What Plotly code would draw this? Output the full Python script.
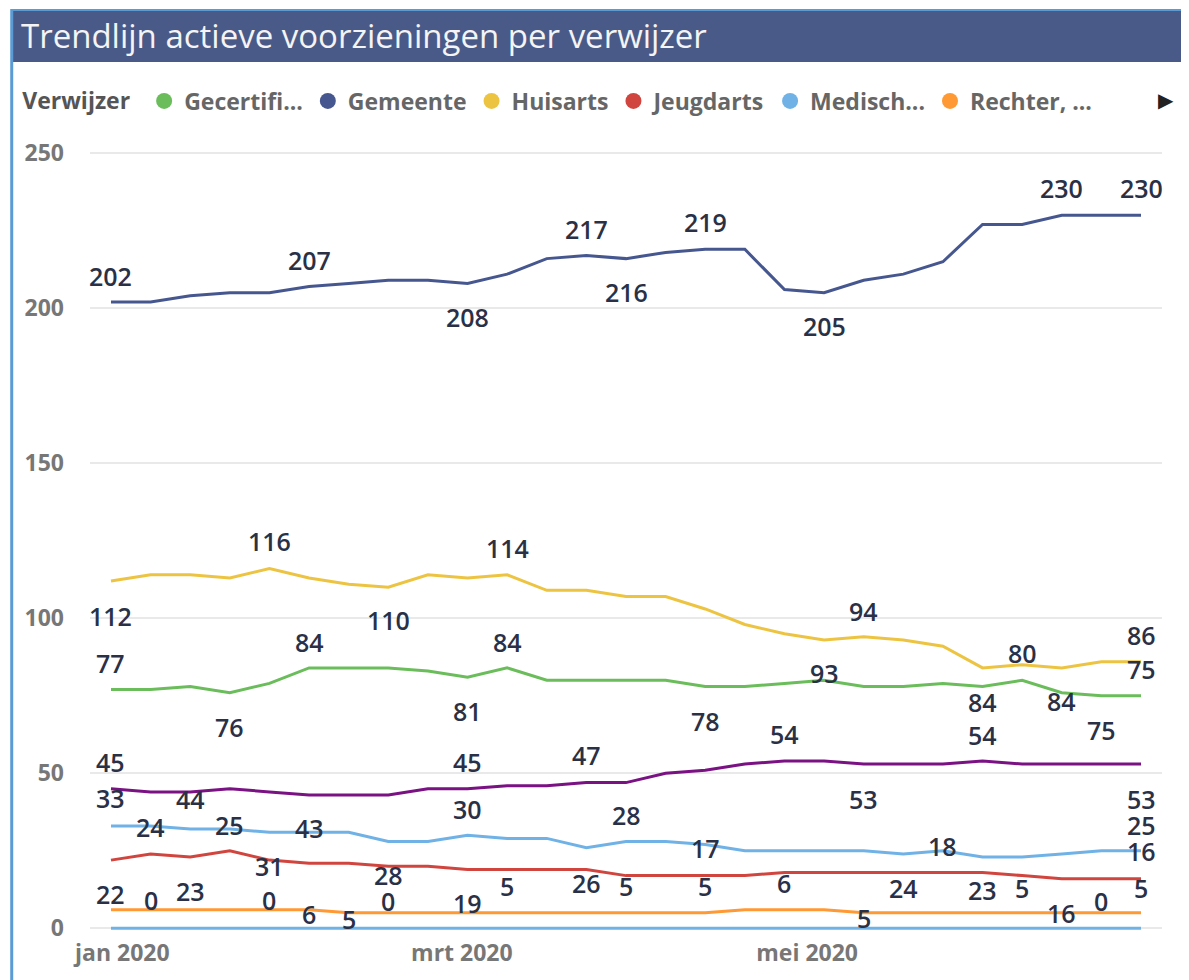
import plotly.graph_objects as go

# ---------------- data ----------------
weeks = ["2019-12-30", "2020-01-06", "2020-01-13", "2020-01-20", "2020-01-27",
         "2020-02-03", "2020-02-10", "2020-02-17", "2020-02-24", "2020-03-02",
         "2020-03-09", "2020-03-16", "2020-03-23", "2020-03-30", "2020-04-06",
         "2020-04-13", "2020-04-20", "2020-04-27", "2020-05-04", "2020-05-11",
         "2020-05-18", "2020-05-25", "2020-06-01", "2020-06-08", "2020-06-15",
         "2020-06-22", "2020-06-29"]

gecertificeerd = [77, 77, 78, 76, 79, 84, 84, 84, 83, 81, 84, 80, 80, 80, 80, 78, 78, 79, 80, 78, 78, 79, 78, 80, 76, 75, 75]
gemeente = [202, 202, 204, 205, 205, 207, 208, 209, 209, 208, 211, 216, 217, 216, 218, 219, 219, 206, 205, 209, 211, 215, 227, 227, 230, 230, 230]
huisarts = [112, 114, 114, 113, 116, 113, 111, 110, 114, 113, 114, 109, 109, 107, 107, 103, 98, 95, 93, 94, 93, 91, 84, 85, 84, 86, 86]
jeugdarts = [22, 24, 23, 25, 22, 21, 21, 20, 20, 19, 19, 19, 19, 17, 17, 17, 17, 18, 18, 18, 18, 18, 18, 17, 16, 16, 16]
medisch = [33, 33, 32, 32, 31, 31, 31, 28, 28, 30, 29, 29, 26, 28, 28, 27, 25, 25, 25, 25, 24, 25, 23, 23, 24, 25, 25]
rechter = [6, 6, 6, 6, 6, 6, 5, 5, 5, 5, 5, 5, 5, 5, 5, 5, 6, 6, 6, 5, 5, 5, 5, 5, 5, 5, 5]
overig = [45, 44, 44, 45, 44, 43, 43, 43, 45, 45, 46, 46, 47, 47, 50, 51, 53, 54, 54, 53, 53, 53, 54, 53, 53, 53, 53]
onbekend = [0, 0, 0, 0, 0, 0, 0, 0, 0, 0, 0, 0, 0, 0, 0, 0, 0, 0, 0, 0, 0, 0, 0, 0, 0, 0, 0]

series_names = ["Gecertifi...", "Gemeente", "Huisarts", "Jeugdarts", "Medisch...", "Rechter, ...", "Overig", "Onbekend"]
series_values = [gecertificeerd, gemeente, huisarts, jeugdarts, medisch, rechter, overig, onbekend]
series_in_legend = [True, True, True, True, True, True, False, False]

x_tick_vals = ["2020-01-01", "2020-03-01", "2020-05-01"]
x_tick_text = ["jan 2020", "mrt 2020", "mei 2020"]
y_tick_vals = [0, 50, 100, 150, 200, 250]

# ---------------- style ----------------
colors = ["#6BBD5B", "#46578F", "#EDC442", "#D1453F", "#70B2E6", "#FF9933", "#7A1283", "#70B2E6"]

# data-label placement: point index -> vertical pixel offset of the label
label_offsets = [
    {0: 27, 3: -34, 5: 26, 9: -34, 10: 26, 15: -35, 23: 27, 25: -34, 26: 27},
    {0: 26, 5: 27, 9: -34, 12: 27, 13: -33, 15: 27, 18: -33, 24: 27, 26: 27},
    {0: -35, 4: 28, 7: -33, 10: 27, 18: -33, 19: 26, 22: -34, 24: -33, 26: 27},
    {0: -34, 1: 27, 2: -34, 3: 26, 9: -34, 15: 28, 21: 27, 24: -34, 26: 28},
    {0: 28, 4: -34, 7: -33, 9: 26, 12: -35, 13: 27, 20: -34, 22: -33, 26: 26},
    {5: -4, 6: -6, 10: 27, 13: 27, 15: 27, 17: 27, 19: -5, 23: 25, 26: 25},
    {0: 27, 2: -7, 5: -33, 9: 27, 12: 28, 17: 27, 19: -35, 22: 26, 26: -35},
    {1: 28, 4: 28, 7: 27, 25: 27},
]

# the page places the figure 8px from the top-left corner of the window
OFF = 8
W, H = 1189 - OFF, 980 - OFF
# plot area in window pixels: x 87..1162, y 147..937
ML, MR, MT, MB = 87 - OFF, 1189 - 1162, 147 - OFF, 980 - 937
PW, PH = W - ML - MR, H - MT - MB


def px(xw):
    """window x pixel -> paper x"""
    return (xw - OFF - ML) / PW


def py(yw):
    """window y pixel -> paper y"""
    return (H - MB - (yw - OFF)) / PH


FONT = "Open Sans, Segoe UI, sans-serif"
LABEL_COLOR = "#2A3146"

fig = go.Figure()

# lines
for name, vals, col in zip(series_names, series_values, colors):
    fig.add_trace(go.Scatter(
        x=weeks, y=vals, mode="lines", name=name,
        line=dict(color=col, width=3), showlegend=False,
        hovertemplate="%{x|%d-%m-%Y}: %{y}<extra>" + name + "</extra>",
    ))

# legend entries (circle symbols like Power BI)
for name, col, show in zip(series_names, colors, series_in_legend):
    if show:
        fig.add_trace(go.Scatter(
            x=[None], y=[None], mode="markers", name=name,
            marker=dict(color=col, size=18, symbol="circle"),
            showlegend=True,
        ))

# data labels
annotations = []
for vals, offs in zip(series_values, label_offsets):
    for i, dy in offs.items():
        annotations.append(dict(
            x=weeks[i], y=vals[i], xref="x", yref="y",
            text=str(vals[i]), showarrow=False, yshift=dy,
            font=dict(family=FONT, size=25, color=LABEL_COLOR, weight=600),
        ))

# title text
annotations.append(dict(
    x=px(16), y=py(36), xref="paper", yref="paper", xanchor="left", yanchor="middle",
    text="Trendlijn actieve voorzieningen per verwijzer", showarrow=False,
    font=dict(family=FONT, size=33, color="#F4F4F4"),
))
# legend scroll arrow
annotations.append(dict(
    x=px(1166), y=py(100), xref="paper", yref="paper", xanchor="center", yanchor="middle",
    text="▶", showarrow=False,
    font=dict(family="DejaVu Sans", size=20, color="#222222"),
))

shapes = [
    # title bar
    dict(type="rect", xref="paper", yref="paper", x0=px(9), x1=px(1195), y0=py(62), y1=py(11),
         fillcolor="#4A5A88", line=dict(width=0), layer="below"),
    # visual border (left and top)
    dict(type="line", xref="paper", yref="paper", x0=px(8.5), x1=px(8.5), y0=py(9), y1=py(990),
         line=dict(color="#5B9BD5", width=3)),
    dict(type="line", xref="paper", yref="paper", x0=px(8), x1=px(1195), y0=py(10), y1=py(10),
         line=dict(color="#5B9BD5", width=2)),
]

fig.update_layout(
    width=W, height=H,
    margin=dict(l=ML, r=MR, t=MT, b=MB),
    paper_bgcolor="white", plot_bgcolor="white",
    font=dict(family=FONT),
    showlegend=True,
    legend=dict(
        orientation="h", x=px(17), y=py(101), xanchor="left", yanchor="middle",
        title=dict(text="Verwijzer ", side="left", font=dict(family=FONT, size=23, color="#555555", weight="bold")),
        font=dict(family=FONT, size=23, color="#666666", weight="bold"),
        itemwidth=30, tracegroupgap=0, itemsizing="trace",
        bgcolor="rgba(0,0,0,0)",
    ),
    xaxis=dict(
        type="date", range=["2019-12-26 07:00", "2020-07-02 17:00"],
        tickvals=x_tick_vals, ticktext=x_tick_text,
        showgrid=False, zeroline=False, showline=False, ticks="",
        tickfont=dict(family=FONT, size=23, color="#777777", weight="bold"),
    ),
    yaxis=dict(
        range=[-2.8, 252], tickvals=y_tick_vals,
        showgrid=True, gridcolor="#E9E9E9", gridwidth=2, zeroline=False, showline=False,
        ticks="", ticklabelstandoff=25,
        tickfont=dict(family=FONT, size=23, color="#777777", weight="bold"),
    ),
    annotations=annotations,
    shapes=shapes,
    hovermode="closest",
)

fig.write_html("out.html")
